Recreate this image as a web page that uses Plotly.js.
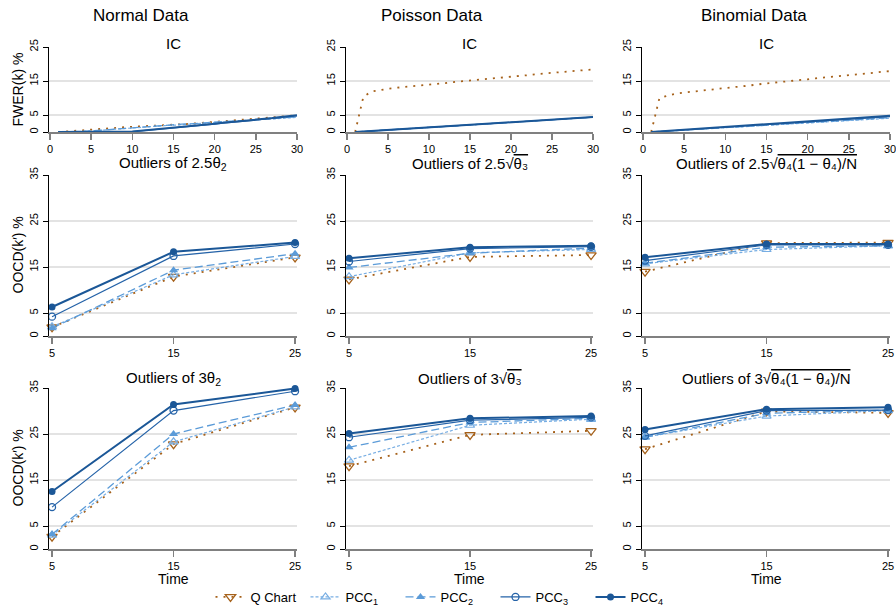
<!DOCTYPE html>
<html>
<head>
<meta charset="utf-8">
<script src="https://cdn.plot.ly/plotly-3.0.1.min.js"></script>
<style>html,body{margin:0;padding:0;background:#fff;}#chart{width:896px;height:607px;}</style>
</head>
<body>
<div id="chart"></div>
<script>
// ---------- DATA ----------
const seriesNames = ['Q Chart', 'PCC<sub>1</sub>', 'PCC<sub>2</sub>', 'PCC<sub>3</sub>', 'PCC<sub>4</sub>'];
const columnTitles = ['Normal Data', 'Poisson Data', 'Binomial Data'];
const icTitle = 'IC';
const midTitles = ['Outliers of 2.5θ<sub>2</sub>',
  'Outliers of 2.5√<span style="text-decoration:overline">θ₃</span>',
  'Outliers of 2.5√<span style="text-decoration:overline">θ₄(1 − θ₄)/N</span>'];
const botTitles = ['Outliers of 3θ<sub>2</sub>',
  'Outliers of 3√<span style="text-decoration:overline">θ₃</span>',
  'Outliers of 3√<span style="text-decoration:overline">θ₄(1 − θ₄)/N</span>'];
const icYTitle = 'FWER(k) %';
const oocYTitle = 'OOCD(k′) %';
const xTitle = 'Time';

const icK = [1,2,3,4,5,6,7,8,9,10,11,12,13,14,15,16,17,18,19,20,21,22,23,24,25,26,27,28,29,30];
const icTicks = [0,5,10,15,20,25,30];
const timePoints = [5,15,25];
const icYTicks = [0,5,15,25];
const oocYTicks = [0,5,15,25,35];

// IC, Normal data
const icNormalQ    = [0,0.1,0.3,0.5,0.7,0.8,1.0,1.2,1.4,1.5,1.7,1.8,1.9,2.1,2.2,2.3,2.4,2.6,2.8,3.0,3.2,3.4,3.5,3.7,3.9,4.1,4.3,4.5,4.7,4.9];
const icNormalPCC1 = [0,0,0.1,0.2,0.3,0.5,0.7,0.9,1.1,1.2,1.4,1.6,1.7,1.9,2.0,2.2,2.3,2.5,2.6,2.8,2.9,3.1,3.2,3.4,3.5,3.7,3.8,4.0,4.2,4.3];
const icNormalPCC2 = [0,0,0.1,0.2,0.3,0.5,0.7,0.9,1.1,1.3,1.5,1.7,1.8,2.0,2.1,2.3,2.4,2.6,2.7,2.9,3.0,3.2,3.3,3.5,3.6,3.8,3.9,4.1,4.3,4.4];
const icNormalPCC3 = [0,0,0,0,0,0,0,0.05,0.1,0.15,0.35,0.55,0.75,1.0,1.2,1.4,1.65,1.9,2.1,2.3,2.6,2.8,3.0,3.3,3.5,3.7,4.0,4.2,4.5,4.7];
const icNormalPCC4 = [0,0,0,0,0,0,0,0.05,0.1,0.15,0.4,0.6,0.8,1.0,1.3,1.5,1.7,2.0,2.2,2.4,2.7,2.9,3.1,3.4,3.6,3.9,4.1,4.4,4.6,4.9];
// IC, Poisson data
const icPoissonQ    = [0,10.4,11.9,12.4,12.7,13.0,13.2,13.5,13.8,14.0,14.2,14.4,14.7,14.9,15.1,15.4,15.6,15.8,16.0,16.2,16.4,16.7,17.0,17.2,17.4,17.6,17.8,18.0,18.2,18.4];
const icPoissonPCC1 = [0,0.16,0.31,0.46,0.61,0.76,0.91,1.06,1.21,1.36,1.51,1.66,1.81,1.96,2.11,2.26,2.41,2.56,2.71,2.86,3.01,3.16,3.31,3.46,3.61,3.76,3.91,4.06,4.21,4.36];
const icPoissonPCC2 = [0,0.16,0.31,0.46,0.61,0.76,0.91,1.06,1.21,1.36,1.51,1.66,1.81,1.96,2.11,2.26,2.41,2.56,2.71,2.86,3.01,3.16,3.31,3.46,3.61,3.76,3.91,4.06,4.21,4.37];
const icPoissonPCC3 = [0,0.15,0.3,0.45,0.6,0.75,0.9,1.05,1.2,1.35,1.5,1.65,1.8,1.95,2.1,2.25,2.4,2.55,2.7,2.85,3.0,3.15,3.3,3.45,3.6,3.75,3.9,4.05,4.2,4.35];
const icPoissonPCC4 = [0,0.15,0.3,0.45,0.6,0.75,0.9,1.05,1.2,1.35,1.5,1.65,1.8,1.95,2.1,2.25,2.4,2.55,2.7,2.85,3.0,3.15,3.3,3.45,3.6,3.75,3.9,4.05,4.2,4.4];
// IC, Binomial data
const icBinomQ    = [0,10.0,10.7,11.3,11.6,11.9,12.1,12.4,12.7,12.9,13.2,13.4,13.8,14.0,14.3,14.5,14.8,15.0,15.3,15.5,15.8,16.0,16.2,16.5,16.8,17.0,17.2,17.4,17.7,17.9];
const icBinomPCC1 = [0,0.14,0.28,0.42,0.56,0.7,0.84,0.98,1.12,1.26,1.4,1.54,1.68,1.82,1.96,2.1,2.24,2.38,2.52,2.66,2.8,2.94,3.08,3.22,3.36,3.5,3.64,3.78,3.92,4.05];
const icBinomPCC2 = [0,0.15,0.29,0.44,0.58,0.73,0.87,1.02,1.16,1.31,1.45,1.6,1.74,1.89,2.03,2.18,2.32,2.47,2.61,2.76,2.9,3.05,3.19,3.34,3.48,3.63,3.77,3.92,4.06,4.2];
const icBinomPCC3 = [0,0.16,0.31,0.47,0.62,0.78,0.93,1.09,1.24,1.4,1.55,1.71,1.86,2.02,2.17,2.33,2.48,2.64,2.79,2.95,3.1,3.26,3.41,3.57,3.72,3.88,4.03,4.19,4.34,4.5];
const icBinomPCC4 = [0,0.17,0.33,0.5,0.66,0.83,0.99,1.16,1.32,1.49,1.66,1.82,1.99,2.15,2.32,2.48,2.65,2.81,2.98,3.15,3.31,3.48,3.64,3.81,3.97,4.14,4.3,4.47,4.63,4.8];

// Outliers 2.5 (middle row)
const midNormalQ    = [1.9,12.9,17.1];
const midNormalPCC1 = [2.0,13.3,17.3];
const midNormalPCC2 = [1.7,14.3,17.9];
const midNormalPCC3 = [4.2,17.4,20.0];
const midNormalPCC4 = [6.3,18.3,20.3];
const midPoissonQ    = [12.3,17.2,17.6];
const midPoissonPCC1 = [12.9,18.1,18.8];
const midPoissonPCC2 = [14.9,18.0,19.1];
const midPoissonPCC3 = [16.2,19.0,19.4];
const midPoissonPCC4 = [16.9,19.3,19.6];
const midBinomQ    = [14.0,20.2,20.3];
const midBinomPCC1 = [15.7,18.8,19.6];
const midBinomPCC2 = [15.8,19.3,19.6];
const midBinomPCC3 = [16.4,19.8,19.8];
const midBinomPCC4 = [17.1,20.0,20.0];

// Outliers 3 (bottom row)
const botNormalQ    = [2.7,22.8,30.8];
const botNormalPCC1 = [3.0,23.3,30.9];
const botNormalPCC2 = [3.2,25.0,31.3];
const botNormalPCC3 = [9.1,30.1,34.3];
const botNormalPCC4 = [12.5,31.4,34.9];
const botPoissonQ    = [18.0,24.8,25.7];
const botPoissonPCC1 = [19.3,26.9,28.2];
const botPoissonPCC2 = [22.1,27.5,28.4];
const botPoissonPCC3 = [24.3,28.0,28.6];
const botPoissonPCC4 = [25.1,28.4,28.9];
const botBinomQ    = [21.7,29.9,29.6];
const botBinomPCC1 = [24.3,28.9,30.1];
const botBinomPCC2 = [24.3,29.5,30.2];
const botBinomPCC3 = [24.6,30.1,30.2];
const botBinomPCC4 = [26.0,30.4,30.8];

// ---------- TABLES BUILT FROM THE DATA ----------
const panels = [
  {x: icK, ys: [icNormalQ, icNormalPCC1, icNormalPCC2, icNormalPCC3, icNormalPCC4], ic: true},
  {x: icK, ys: [icPoissonQ, icPoissonPCC1, icPoissonPCC2, icPoissonPCC3, icPoissonPCC4], ic: true},
  {x: icK, ys: [icBinomQ, icBinomPCC1, icBinomPCC2, icBinomPCC3, icBinomPCC4], ic: true},
  {x: timePoints, ys: [midNormalQ, midNormalPCC1, midNormalPCC2, midNormalPCC3, midNormalPCC4]},
  {x: timePoints, ys: [midPoissonQ, midPoissonPCC1, midPoissonPCC2, midPoissonPCC3, midPoissonPCC4]},
  {x: timePoints, ys: [midBinomQ, midBinomPCC1, midBinomPCC2, midBinomPCC3, midBinomPCC4]},
  {x: timePoints, ys: [botNormalQ, botNormalPCC1, botNormalPCC2, botNormalPCC3, botNormalPCC4]},
  {x: timePoints, ys: [botPoissonQ, botPoissonPCC1, botPoissonPCC2, botPoissonPCC3, botPoissonPCC4]},
  {x: timePoints, ys: [botBinomQ, botBinomPCC1, botBinomPCC2, botBinomPCC3, botBinomPCC4]}
];

// ---------- STYLES ----------
const styles = [
  {color: '#a6611a', width: 1.8, dash: '2px,6px', symbol: 'triangle-down-open', size: 9, lw: 1.3},
  {color: '#78aee3', width: 1.2, dash: '3px,2px', symbol: 'triangle-up-open', size: 8, lw: 1.2},
  {color: '#5b9bd8', width: 1.3, dash: '8px,4px', symbol: 'triangle-up', size: 8, lw: 0},
  {color: '#2563a8', width: 1.2, dash: 'solid', symbol: 'circle-open', size: 7, lw: 1.3},
  {color: '#1b5797', width: 2.0, dash: 'solid', symbol: 'circle', size: 7, lw: 0}
];

const FONT = 'Liberation Sans, Arial, Helvetica, sans-serif';
const W = 896, H = 607;
const colPx = [[49, 297], [346, 593], [642, 890]];
const rowPx = [[47, 132], [175, 336], [388, 549]];

const traces = [];
panels.forEach((p, i) => {
  const ax = i === 0 ? '' : String(i + 1);
  p.ys.forEach((y, s) => {
    const st = styles[s];
    traces.push({
      type: 'scatter',
      x: p.x, y: y,
      xaxis: 'x' + ax, yaxis: 'y' + ax,
      mode: p.ic ? 'lines' : 'lines+markers',
      name: seriesNames[s],
      showlegend: false,
      line: {color: st.color, width: st.width, dash: st.dash},
      marker: {symbol: st.symbol, size: st.size, color: st.color, line: {color: st.color, width: st.lw}},
      cliponaxis: false,
      hoverinfo: 'skip'
    });
  });
});
// legend entries (no visible data)
styles.forEach((st, s) => {
  traces.push({
    type: 'scatter', x: [null], y: [null], xaxis: 'x4', yaxis: 'y4',
    mode: 'lines+markers', name: seriesNames[s], showlegend: true,
    line: {color: st.color, width: st.width, dash: st.dash},
    marker: {symbol: st.symbol, size: st.size, color: st.color, line: {color: st.color, width: st.lw}}
  });
});

const layout = {
  width: W, height: H,
  margin: {l: 0, r: 0, t: 0, b: 0, autoexpand: false},
  paper_bgcolor: '#fff', plot_bgcolor: '#fff',
  font: {family: FONT, size: 11, color: '#000'},
  showlegend: true,
  legend: {
    orientation: 'h', x: 0.5, xanchor: 'center', y: 1 - 597 / H, yanchor: 'middle',
    font: {family: FONT, size: 13, color: '#000'},
    entrywidth: 50, entrywidthmode: 'pixels', itemwidth: 30,
    bgcolor: 'rgba(0,0,0,0)', borderwidth: 0
  },
  annotations: []
};

for (let i = 0; i < 9; i++) {
  const r = Math.floor(i / 3), c = i % 3;
  const ax = i === 0 ? '' : String(i + 1);
  const isIC = r === 0;
  layout['xaxis' + ax] = {
    domain: [colPx[c][0] / W, colPx[c][1] / W],
    anchor: 'y' + ax,
    range: isIC ? [-0.12, 30] : [4.75, 25.16],
    tickvals: isIC ? icTicks : timePoints,
    ticktext: (isIC ? icTicks : timePoints).map(String),
    showline: true, linecolor: '#808080', linewidth: 1.5,
    ticks: 'outside', ticklen: 6, tickwidth: 1.5, tickcolor: '#808080',
    showgrid: false, zeroline: false,
    ticklabeloverflow: 'allow',
    tickfont: {family: FONT, size: 11, color: '#000'},
    fixedrange: true
  };
  layout['yaxis' + ax] = {
    domain: [1 - rowPx[r][1] / H, 1 - rowPx[r][0] / H],
    anchor: 'x' + ax,
    range: isIC ? [0, 25] : [0, 35],
    tickvals: isIC ? icYTicks : oocYTicks,
    ticktext: (isIC ? icYTicks : oocYTicks).map(String),
    tickangle: -90,
    showline: true, linecolor: '#000', linewidth: 1.3,
    ticks: 'outside', ticklen: 5, tickcolor: '#000',
    showgrid: true, gridcolor: '#e3e3e3', gridwidth: 1.5,
    zeroline: false,
    ticklabeloverflow: 'allow',
    tickfont: {family: FONT, size: 11, color: '#000'},
    fixedrange: true
  };
  const titleText = r === 0 ? icTitle : (r === 1 ? midTitles[c] : botTitles[c]);
  const titleY = [43, 163, 378][r];
  layout.annotations.push({
    text: titleText, xref: 'paper', yref: 'paper',
    x: (colPx[c][0] + colPx[c][1]) / 2 / W, y: 1 - titleY / H,
    xanchor: 'center', yanchor: 'middle', showarrow: false,
    font: {family: FONT, size: 15, color: '#000'}
  });
}
// column titles
const colTitleX = [141, 432, 754];
columnTitles.forEach((t, c) => {
  layout.annotations.push({
    text: t, xref: 'paper', yref: 'paper', x: colTitleX[c] / W, y: 1 - 15 / H,
    xanchor: 'center', yanchor: 'middle', showarrow: false,
    font: {family: FONT, size: 17, color: '#000'}
  });
});
// y titles
[[icYTitle, 0], [oocYTitle, 1], [oocYTitle, 2]].forEach(([t, r]) => {
  layout.annotations.push({
    text: t, xref: 'paper', yref: 'paper', x: 17 / W,
    y: 1 - (rowPx[r][0] + rowPx[r][1]) / 2 / H,
    xanchor: 'center', yanchor: 'middle', textangle: -90, showarrow: false,
    font: {family: FONT, size: 14, color: '#000'}
  });
});
// x titles
for (let c = 0; c < 3; c++) {
  layout.annotations.push({
    text: xTitle, xref: 'paper', yref: 'paper',
    x: (colPx[c][0] + colPx[c][1]) / 2 / W, y: 1 - 579 / H,
    xanchor: 'center', yanchor: 'middle', showarrow: false,
    font: {family: FONT, size: 14, color: '#000'}
  });
}

Plotly.newPlot('chart', traces, layout, {staticPlot: true, displayModeBar: false});
</script>
</body>
</html>
